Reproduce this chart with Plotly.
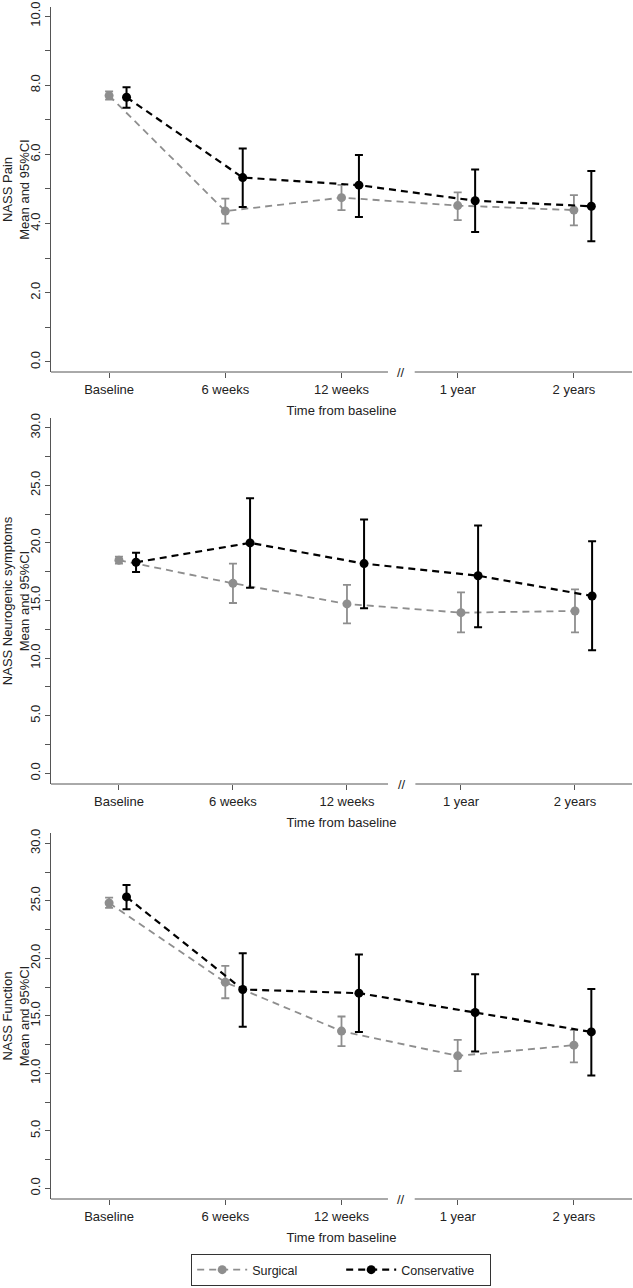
import plotly.graph_objects as go

categories = ["Baseline", "6 weeks", "12 weeks", "1 year", "2 years"]
series_names = ["Surgical", "Conservative"]

pain_surg_mean = [7.70, 4.36, 4.75, 4.52, 4.39]
pain_surg_lo = [7.58, 4.00, 4.39, 4.10, 3.95]
pain_surg_hi = [7.82, 4.72, 5.12, 4.90, 4.82]
pain_cons_mean = [7.65, 5.33, 5.11, 4.66, 4.50]
pain_cons_lo = [7.35, 4.48, 4.19, 3.76, 3.49]
pain_cons_hi = [7.94, 6.17, 5.98, 5.56, 5.52]

neuro_surg_mean = [18.50, 16.49, 14.70, 13.94, 14.09]
neuro_surg_lo = [18.20, 14.78, 13.02, 12.24, 12.24]
neuro_surg_hi = [18.80, 18.20, 16.35, 15.71, 15.97]
neuro_cons_mean = [18.32, 20.00, 18.20, 17.15, 15.39]
neuro_cons_lo = [17.47, 16.11, 14.32, 12.67, 10.67]
neuro_cons_hi = [19.15, 23.87, 22.02, 21.50, 20.14]

func_surg_mean = [24.81, 17.92, 13.67, 11.52, 12.45]
func_surg_lo = [24.38, 16.53, 12.36, 10.19, 10.95]
func_surg_hi = [25.28, 19.34, 14.94, 12.91, 13.78]
func_cons_mean = [25.34, 17.29, 16.97, 15.29, 13.60]
func_cons_lo = [24.27, 14.04, 13.60, 11.90, 9.82]
func_cons_hi = [26.38, 20.44, 20.33, 18.62, 17.34]

y_titles = ["NASS Pain<br>Mean and 95%CI",
            "NASS Neurogenic symptoms<br>Mean and 95%CI",
            "NASS Function<br>Mean and 95%CI"]
x_title = "Time from baseline"

panels = [
    (pain_surg_mean, pain_surg_lo, pain_surg_hi, pain_cons_mean, pain_cons_lo, pain_cons_hi),
    (neuro_surg_mean, neuro_surg_lo, neuro_surg_hi, neuro_cons_mean, neuro_cons_lo, neuro_cons_hi),
    (func_surg_mean, func_surg_lo, func_surg_hi, func_cons_mean, func_cons_lo, func_cons_hi),
]

# layout settings
W, H = 633, 1288
y_dom_px = [(7, 372), (418, 784), (833, 1199)]
x_ranges = [[-0.5, 4.5], [-0.596, 4.5], [-0.5, 4.5]]
y_ranges = [[-0.29, 10.26], [-0.93, 30.84], [-0.93, 30.9]]
y_dticks = [2, 5, 5]
y_minor = [1, 2.5, 2.5]
gaps = [(2.40, 2.63), (2.36, 2.60), (2.40, 2.63)]
offset = 0.15

GRAY = "#8e8e8e"
BLACK = "#000000"
AXC = "#555555"
TXT = "#222222"
FONT = "Liberation Sans, Arial, sans-serif"

fig = go.Figure()
idx = list(range(len(categories)))

for p, (sm, sl, sh, cm, cl, ch) in enumerate(panels):
    xa = "x" if p == 0 else f"x{p+1}"
    ya = "y" if p == 0 else f"y{p+1}"
    fig.add_trace(go.Scatter(
        x=idx, y=sm, mode="lines+markers", name=series_names[0],
        xaxis=xa, yaxis=ya, showlegend=(p == 0), legendrank=1,
        line=dict(color=GRAY, width=1.8, dash="7px,5px"),
        marker=dict(color=GRAY, size=9),
        error_y=dict(type="data", symmetric=False,
                     array=[h - m for h, m in zip(sh, sm)],
                     arrayminus=[m - l for m, l in zip(sm, sl)],
                     color=GRAY, thickness=1.8, width=4),
    ))
    fig.add_trace(go.Scatter(
        x=[i + offset for i in idx], y=cm, mode="lines+markers", name=series_names[1],
        xaxis=xa, yaxis=ya, showlegend=(p == 0), legendrank=2,
        line=dict(color=BLACK, width=2.2, dash="7px,5px"),
        marker=dict(color=BLACK, size=9),
        error_y=dict(type="data", symmetric=False,
                     array=[h - m for h, m in zip(ch, cm)],
                     arrayminus=[m - l for m, l in zip(cm, cl)],
                     color=BLACK, thickness=2, width=4),
    ))

layout = dict(
    width=W, height=H,
    margin=dict(l=0, r=0, t=0, b=0, autoexpand=False),
    paper_bgcolor="white", plot_bgcolor="white",
    font=dict(family=FONT, size=13, color=TXT),
    showlegend=True,
    legend=dict(orientation="h", x=0.539, xanchor="center", y=1 - 1254 / H, yanchor="top",
                bordercolor="#333333", borderwidth=1, font=dict(size=12.5, color=TXT),
                entrywidth=84, entrywidthmode="pixels", traceorder="normal",
                itemwidth=50),
)

shapes = []
annotations = []
for p in range(3):
    sx = "" if p == 0 else str(p + 1)
    top, bot = y_dom_px[p]
    layout[f"xaxis{sx}"] = dict(
        domain=[51 / W, 632 / W], range=x_ranges[p], anchor=f"y{sx}",
        automargin=False,
        tickmode="array", tickvals=idx, ticktext=categories,
        ticks="outside", ticklen=5, tickcolor=AXC, tickwidth=1,
        showline=False, showgrid=False, zeroline=False,
        tickfont=dict(size=13, color=TXT),
        title=dict(text=x_title, font=dict(size=13, color=TXT), standoff=10),
    )
    layout[f"yaxis{sx}"] = dict(
        domain=[1 - bot / H, 1 - top / H], range=y_ranges[p], anchor=f"x{sx}",
        automargin=False,
        dtick=y_dticks[p], tick0=0, tickformat=".1f", tickangle=-90,
        ticks="outside", ticklen=5, tickcolor=AXC, tickwidth=1,
        minor=dict(ticks="outside", ticklen=5, dtick=y_minor[p], tick0=0, tickcolor=AXC),
        showline=True, linecolor=AXC, linewidth=1,
        showgrid=False, zeroline=False,
        tickfont=dict(size=13, color=TXT),
        title=dict(text=y_titles[p], font=dict(size=13, color=TXT), standoff=4),
    )
    g0, g1 = gaps[p]
    xr = x_ranges[p]
    for a, b in [(xr[0], g0), (g1, xr[1])]:
        shapes.append(dict(type="line", xref=f"x{sx}", yref=f"y{sx} domain",
                           x0=a, x1=b, y0=0, y1=0, line=dict(color=AXC, width=1)))
    annotations.append(dict(text="//", xref=f"x{sx}", yref=f"y{sx} domain",
                            x=(g0 + g1) / 2, y=0, showarrow=False,
                            font=dict(size=13, color=TXT), yanchor="middle"))

layout["shapes"] = shapes
layout["annotations"] = annotations
fig.update_layout(**layout)

fig.write_html(
    "out.html",
    config={"displayModeBar": False},
    post_script="document.body.style.margin='0';document.body.style.overflow='hidden';",
)
